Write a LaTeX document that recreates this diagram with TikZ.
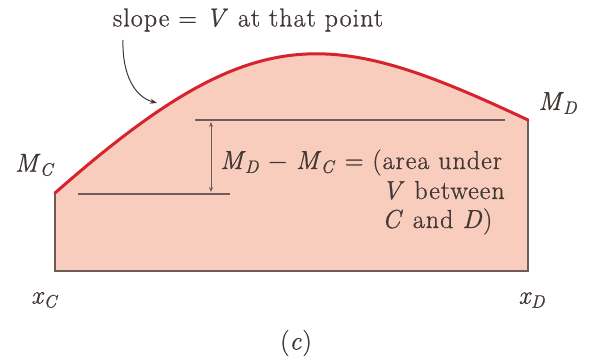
\documentclass[tikz,border=0pt]{standalone}
\usepackage{fontspec}
\setmainfont{Latin Modern Roman}[LetterSpace=4, UprightFeatures={FakeBold=0.8}, ItalicFeatures={FakeBold=0.8}]
\usetikzlibrary{arrows.meta}
\definecolor{fillpink}{RGB}{248,205,190}
\definecolor{curvered}{RGB}{214,35,45}
\definecolor{linegray}{RGB}{110,92,88}
\definecolor{textcol}{RGB}{65,55,53}
\newcommand{\iv}[1]{\textit{#1}}
\newcommand{\sbs}[1]{\kern-0.06em\raisebox{-0.35ex}{\fontsize{18}{18}\selectfont\textit{#1}}}
\begin{document}
\begin{tikzpicture}[x=1pt,y=-1pt,
  lbl/.style={text=textcol, inner sep=0pt, font=\fontsize{26}{29}\selectfont},
  edgeline/.style={draw=linegray, line width=1.4pt},
  refline/.style={draw=linegray, line width=1.2pt},
  dimarrow/.style={draw=linegray, line width=1pt, {Stealth[length=5pt,width=4pt]}-{Stealth[length=5pt,width=4pt]}},
  callout/.style={draw=textcol, line width=1pt, -{Stealth[length=7pt,width=5pt]}}]
\useasboundingbox (0,0) rectangle (589,363);
\fill[white] (0,0) rectangle (589,363);
% corner points
\coordinate (C) at (55,193);
\coordinate (D) at (528,120);
\coordinate (CB) at (55,271);
\coordinate (DB) at (528,271);
% area
\fill[fillpink] (CB) -- (C) .. controls (255,17) and (328,26) .. (D) -- (DB) -- cycle;
\draw[edgeline] (C) -- (CB) -- (DB) -- (D);
\draw[curvered, line width=3pt, line cap=round] (C) .. controls (255,17) and (328,26) .. (D);
% reference lines
\coordinate (u1) at (195,120);
\coordinate (u2) at (505,120);
\coordinate (l1) at (78,194);
\coordinate (l2) at (230,194);
\draw[refline] (u1) -- (u2);
\draw[refline] (l1) -- (l2);
\coordinate (a1) at (211,122);
\coordinate (a2) at (211,192);
\draw[dimarrow] (a1) -- (a2);
% labels
\node[lbl, anchor=base west] (eq1) at (220,169) {\iv{M}\sbs{D} − \iv{M}\sbs{C} = (area under};
\node[lbl, anchor=base west] (eq2) at (382,199) {\iv{V} between};
\node[lbl, anchor=base west] (eq3) at (382,228) {\iv{C} and \iv{D})};
\node[lbl] (slope) at (248,20) {slope = \iv{V} at that point};
\coordinate (s1) at (123,40);
\coordinate (s2) at (157,103);
\draw[callout] (s1) .. controls (122,75) and (135,97) .. (s2);
\node[lbl] (mc) at (35,165) {\iv{M}\sbs{C}};
\node[lbl] (md) at (558,103) {\iv{M}\sbs{D}};
\node[lbl] (xc) at (45,300) {\iv{x}\sbs{C}};
\node[lbl] (xd) at (532,300) {\iv{x}\sbs{D}};
\node[lbl] (cap) at (296,343) {(\iv{c})};
\end{tikzpicture}
\end{document}
